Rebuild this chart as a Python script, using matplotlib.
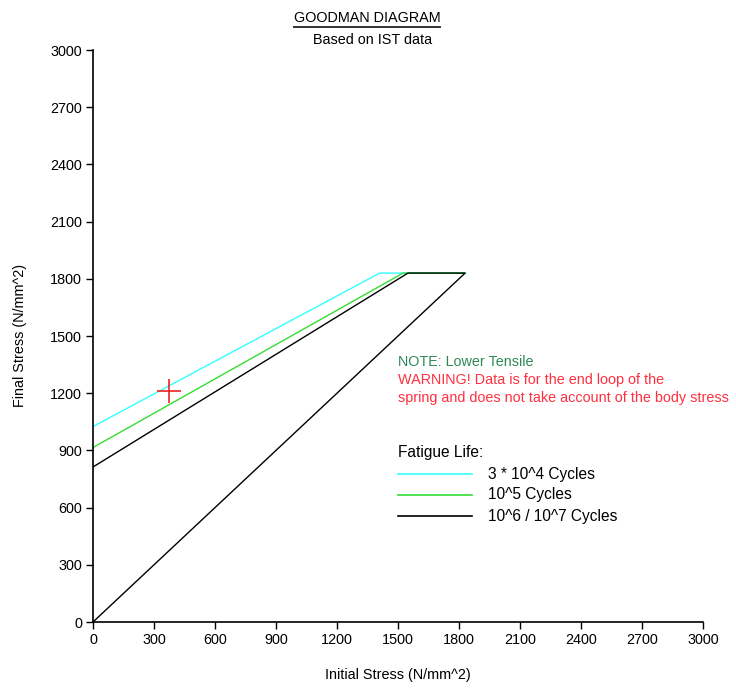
import numpy as np
import matplotlib
matplotlib.use('Agg')
import matplotlib.pyplot as plt
from matplotlib.lines import Line2D

# Goodman lines: (initial stress, final stress) vertices
cyan_x = [0, 1410, 1830]
cyan_y = [1025, 1830, 1830]
green_x = [0, 1525, 1830]
green_y = [915, 1830, 1830]
black_x = [0, 1549, 1830, 0]
black_y = [813, 1830, 1830, 0]

point_x = [372]
point_y = [1210]

ticks = np.arange(0, 3001, 300)
legend_labels = ['3 * 10^4 Cycles', '10^5 Cycles', '10^6 / 10^7 Cycles']
legend_colors = ['#33ffff', '#33dd33', 'black']

plt.rcParams['font.family'] = ['Liberation Sans', 'DejaVu Sans']
fs = 10.4

fig = plt.figure(figsize=(7.36, 6.89), dpi=100)
ax = fig.add_axes([93/736, 1-622/689, 610/736, 572/689])

ax.plot(cyan_x, cyan_y, color=legend_colors[0], lw=1)
ax.plot(green_x, green_y, color=legend_colors[1], lw=1)
ax.plot(black_x, black_y, color=legend_colors[2], lw=1)
ax.plot(point_x, point_y, '+', color='#ee2222', ms=17, mew=1.2)

ax.set_xlim(0, 3000)
ax.set_ylim(0, 3000)
ax.set_xticks(ticks)
ax.set_yticks(ticks)
ax.tick_params(labelsize=fs, length=5, width=1, direction='out', pad=3)
for s in ['top', 'right']:
    ax.spines[s].set_visible(False)
for s in ['left', 'bottom']:
    ax.spines[s].set_linewidth(1.2)

ax.set_xlabel('Initial Stress (N/mm^2)', fontsize=fs)
ax.set_ylabel('Final Stress (N/mm^2)', fontsize=fs)
ax.xaxis.set_label_coords((398-93)/610, -(668-622)/572)
ax.yaxis.set_label_coords(-(93-27)/610, (622-335)/572)

# titles
t = fig.text(367/736, 1-18/689, 'GOODMAN DIAGRAM', ha='center', va='center', fontsize=fs)
fig.text(373/736, 1-40/689, 'Based on IST data', ha='center', va='center', fontsize=fs)
fig.canvas.draw()
bb = t.get_window_extent().transformed(fig.transFigure.inverted())
fig.add_artist(Line2D([bb.x0, bb.x1], [bb.y0 - 0.003, bb.y0 - 0.003], color='#333333', lw=1.4,
                      transform=fig.transFigure))

# notes
tx = 398/736
fig.text(tx, 1-362/689, 'NOTE: Lower Tensile', color='#2e8b57', fontsize=fs, va='center')
fig.text(tx, 1-380/689, 'WARNING! Data is for the end loop of the', color='#ff3040', fontsize=fs, va='center')
fig.text(tx, 1-398/689, 'spring and does not take account of the body stress', color='#ff3040', fontsize=fs, va='center')

# legend
fig.text(tx, 1-453/689, 'Fatigue Life:', fontsize=fs + 0.8, va='center')
for i, (lab, c) in enumerate(zip(legend_labels, legend_colors)):
    yy = 1 - (474 + 21*i)/689
    fig.add_artist(Line2D([398/736, 472/736], [yy, yy], color=c, lw=1.2, transform=fig.transFigure))
    fig.text(488/736, yy, lab, fontsize=fs + 0.8, va='center')

fig.savefig('out.png', dpi=100)
